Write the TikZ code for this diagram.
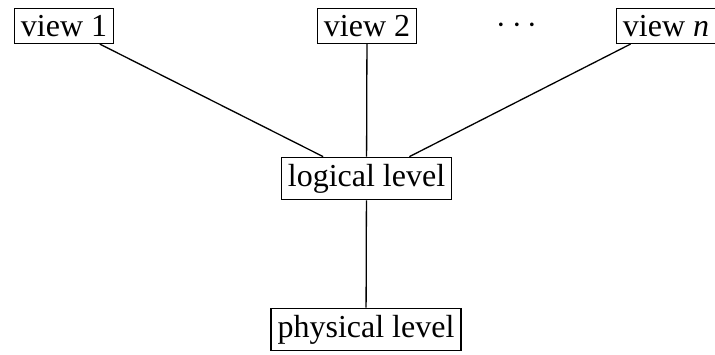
\documentclass[tikz,border=0pt]{standalone}
\usepackage{fontspec}
\setmainfont{Liberation Serif}
\begin{document}
\begin{tikzpicture}[x=0.5pt,y=-0.5pt,
  lbl/.style={font=\fontsize{16}{19}\selectfont},
  box/.style={lbl,draw,line width=0.65pt,inner sep=0.3333em},
  conn/.style={line width=0.65pt}]
\useasboundingbox (0,0) rectangle (715,354);
\node[box] (v1) at (64,26) {view 1};
\node[box] (v2) at (367,26) {view 2};
\node[lbl] (dots) at (517,26) {${\cdot}\mkern3mu{\cdot}\mkern3mu{\cdot}$};
\node[box] (vn) at (666,26) {view \textit{n}};
\node[box] (log) at (366.5,178.5) {logical level};
\node[box] (phy) at (366,329.5) {physical level};
\draw[conn] (v1) -- (log);
\draw[conn] (v2) -- (log);
\draw[conn] (vn) -- (log);
\draw[conn] (log) -- (phy);
\end{tikzpicture}
\end{document}
